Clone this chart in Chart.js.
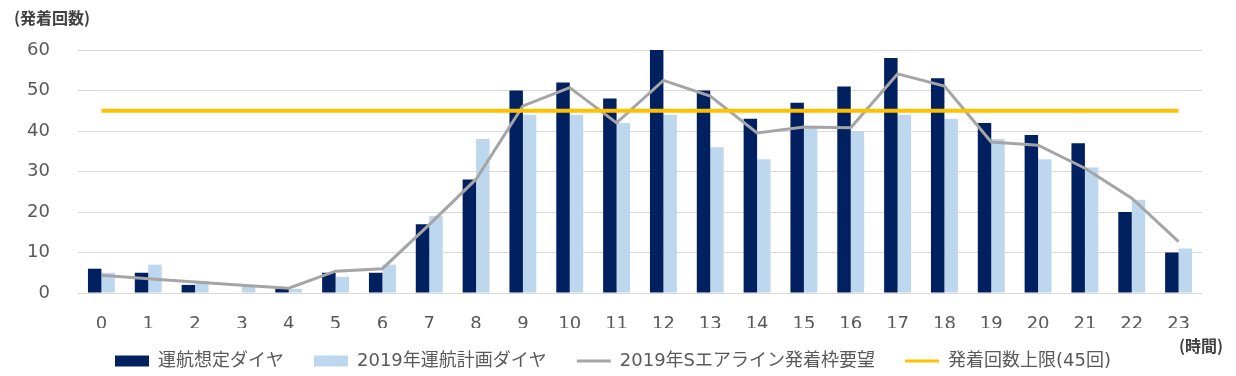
<!DOCTYPE html>
<html>
<head>
<meta charset="utf-8">
<script src="https://cdn.jsdelivr.net/npm/chart.js@4/dist/chart.umd.min.js"></script>
<style>
  html, body { margin: 0; padding: 0; background: #fff; }
  #wrap { width: 1236px; height: 376px; position: relative; }
</style>
</head>
<body>
<div id="wrap"><canvas id="chart"></canvas></div>
<script>
const hours = ['0','1','2','3','4','5','6','7','8','9','10','11','12','13','14','15','16','17','18','19','20','21','22','23'];
const plannedDiagram = [6, 5, 2, 0, 1, 5, 5, 17, 28, 50, 52, 48, 60, 50, 43, 47, 51, 58, 53, 42, 39, 37, 20, 10];
const plan2019 = [5, 7, 3, 2, 1, 4, 7, 19, 38, 44, 44, 42, 44, 36, 33, 41, 40, 44, 43, 38, 33, 31, 23, 11];
const airlineRequest2019 = [4.4, 3.5, 2.7, 1.9, 1.2, 5.4, 6.0, 16.9, 28.1, 46.2, 50.7, 42.0, 52.5, 48.6, 39.5, 41.0, 40.8, 54.1, 51.1, 37.3, 36.5, 30.8, 23.4, 12.7];
const upperLimit = [45, 45, 45, 45, 45, 45, 45, 45, 45, 45, 45, 45, 45, 45, 45, 45, 45, 45, 45, 45, 45, 45, 45, 45];
const yTicks = [0, 10, 20, 30, 40, 50, 60];

const seriesNames = ['運航想定ダイヤ', '2019年運航計画ダイヤ', '2019年Sエアライン発着枠要望', '発着回数上限(45回)'];
const yUnit = '(発着回数)';
const xUnit = '(時間)';

const FONT = "'DejaVu Sans', 'Noto Sans CJK JP', sans-serif";
const CJK = "'Noto Sans CJK JP', sans-serif";

// unit captions at the top-left and bottom-right
const unitLabels = {
  id: 'unitLabels',
  afterDraw(chart) {
    const { ctx, chartArea } = chart;
    ctx.save();
    ctx.font = 'bold 16px ' + CJK;
    ctx.fillStyle = '#404040';
    ctx.textBaseline = 'middle';
    ctx.textAlign = 'left';
    ctx.fillText(yUnit, 14, 18);
    ctx.fillText(xUnit, chartArea.right - 23, 346);
    ctx.restore();
  }
};

// legend box is shorter than chart.js wants and is nudged up/right a bit
const legendFit = {
  id: 'legendFit',
  afterInit(chart) {
    const legend = chart.legend;
    const fit = legend.fit;
    legend.fit = function () {
      fit.call(this);
      this.height = 48;
    };
  },
  afterLayout(chart) {
    const legend = chart.legend;
    legend.top -= 6;
    legend.bottom -= 6;
    legend.left += 12;
    legend.right += 12;
  }
};

new Chart(document.getElementById('chart'), {
  data: {
    labels: hours,
    datasets: [
      {
        type: 'bar',
        label: seriesNames[0],
        data: plannedDiagram,
        backgroundColor: '#002060',
        borderWidth: 0,
        categoryPercentage: 0.575,
        barPercentage: 1,
        order: 3
      },
      {
        type: 'bar',
        label: seriesNames[1],
        data: plan2019,
        backgroundColor: '#BDD7EE',
        borderWidth: 0,
        categoryPercentage: 0.575,
        barPercentage: 1,
        order: 4
      },
      {
        type: 'line',
        label: seriesNames[2],
        data: airlineRequest2019,
        borderColor: '#A5A5A5',
        backgroundColor: '#A5A5A5',
        borderWidth: 3,
        pointRadius: 0,
        tension: 0,
        order: 2
      },
      {
        type: 'line',
        label: seriesNames[3],
        data: upperLimit,
        borderColor: '#FFC000',
        backgroundColor: '#FFC000',
        borderWidth: 4,
        pointRadius: 0,
        tension: 0,
        order: 1
      }
    ]
  },
  options: {
    responsive: true,
    maintainAspectRatio: false,
    animation: false,
    layout: { padding: { top: 50, right: 34, left: 0, bottom: 0 } },
    scales: {
      x: {
        afterFit(scale) { scale.height = 35; },
        grid: { display: false },
        border: { display: false },
        ticks: { color: '#595959', font: { family: FONT, size: 18 }, padding: 13, maxRotation: 0 }
      },
      y: {
        min: 0,
        max: 60,
        afterFit(scale) { scale.width = 78; },
        afterBuildTicks(scale) { scale.ticks = yTicks.map(v => ({ value: v })); },
        grid: { color: '#D9D9D9', lineWidth: 1, drawTicks: false },
        border: { display: false },
        ticks: { color: '#595959', font: { family: FONT, size: 18 }, padding: 28 }
      }
    },
    plugins: {
      tooltip: { enabled: false },
      legend: {
        position: 'bottom',
        labels: {
          usePointStyle: true,
          pointStyleWidth: 34,
          boxHeight: 11,
          padding: 30,
          color: '#595959',
          font: { family: FONT, size: 18 },
          generateLabels(chart) {
            return chart.data.datasets.map((ds, i) => ({
              text: ds.label,
              fillStyle: ds.type === 'line' ? ds.borderColor : ds.backgroundColor,
              strokeStyle: ds.type === 'line' ? ds.borderColor : ds.backgroundColor,
              lineWidth: ds.type === 'line' ? 3 : 0,
              pointStyle: ds.type === 'line' ? 'line' : 'rect',
              fontColor: '#595959',
              datasetIndex: i,
              hidden: !chart.isDatasetVisible(i)
            }));
          }
        }
      }
    }
  },
  plugins: [unitLabels, legendFit]
});
</script>
</body>
</html>
